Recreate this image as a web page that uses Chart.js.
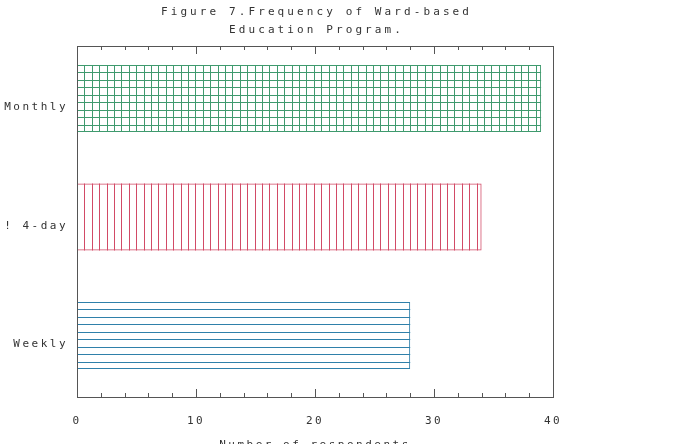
<!DOCTYPE html>
<html>
<head>
<meta charset="utf-8">
<script src="https://cdn.jsdelivr.net/npm/chart.js@4/dist/chart.umd.min.js"></script>
<style>
html,body{margin:0;padding:0;background:#fff;}
#wrap{width:681px;height:444px;}
</style>
</head>
<body>
<div id="wrap"><canvas id="c" width="681" height="444"></canvas></div>
<script>
const categories = ['Monthly', '! 4-day', 'Weekly'];
const respondents = [39, 34, 28];
const xTickValues = [0, 10, 20, 30, 40];
const titleLines = ['Figure 7.Frequency of Ward-based', 'Education Program.'];
const xTitle = 'Number of respondents';

const lineColors = ['#3f9a6e', '#d24a66', '#2f80aa'];
const patterns = ['grid', 'vertical', 'horizontal'];
const textColor = '#333';
const fontFamily = '"DejaVu Sans Mono", monospace';

const spacingPlugin = {
  id: 'spacing',
  beforeLayout(chart) { chart.ctx.letterSpacing = '2.5px'; },
  beforeDraw(chart) { chart.ctx.letterSpacing = '2.5px'; }
};

const titlePlugin = {
  id: 'plotTitle',
  afterDraw(chart) {
    const ctx = chart.ctx;
    const a = chart.chartArea;
    const cx = (a.left + a.right) / 2;
    ctx.save();
    ctx.letterSpacing = '3.1px';
    ctx.fillStyle = textColor;
    ctx.font = '11px ' + fontFamily;
    ctx.textAlign = 'center';
    ctx.textBaseline = 'middle';
    ctx.fillText(titleLines[0], cx + 1.5, 12.5);
    ctx.fillText(titleLines[1], cx + 1.5, 30);
    ctx.restore();
  }
};

const hatchPlugin = {
  id: 'hatch',
  afterDatasetsDraw(chart) {
    const ctx = chart.ctx;
    const meta = chart.getDatasetMeta(0);
    meta.data.forEach((bar, i) => {
      const left = Math.min(bar.base, bar.x);
      const right = Math.max(bar.base, bar.x);
      const top = bar.y - bar.height / 2;
      const bottom = bar.y + bar.height / 2;
      const kind = patterns[i];
      ctx.save();
      ctx.strokeStyle = lineColors[i];
      ctx.lineWidth = kind === 'horizontal' ? 1.2 : 1;
      ctx.beginPath();
      const step = 7.4;
      if (kind === 'grid' || kind === 'vertical') {
        for (let x = left + step; x < right - 1; x += step) {
          ctx.moveTo(Math.round(x) + 0.5, top);
          ctx.lineTo(Math.round(x) + 0.5, bottom);
        }
      }
      if (kind === 'grid' || kind === 'horizontal') {
        const n = 9;
        for (let k = 1; k < n; k++) {
          const y = top + (bottom - top) * k / n;
          ctx.moveTo(left, Math.round(y) + 0.5);
          ctx.lineTo(right, Math.round(y) + 0.5);
        }
      }
      ctx.stroke();
      ctx.restore();
    });
  }
};

const framePlugin = {
  id: 'frame',
  afterDraw(chart) {
    const ctx = chart.ctx;
    const a = chart.chartArea;
    const xs = chart.scales.x;
    ctx.save();
    ctx.strokeStyle = '#555';
    ctx.lineWidth = 1;
    ctx.strokeRect(Math.round(a.left) + 0.5, Math.round(a.top) + 0.5,
                   Math.round(a.right - a.left), Math.round(a.bottom - a.top));
    ctx.beginPath();
    for (let v = xs.min; v <= xs.max; v += 2) {
      const px = Math.round(xs.getPixelForValue(v)) + 0.5;
      const len = (v % 10 === 0) ? 8 : 4;
      ctx.moveTo(px, a.top); ctx.lineTo(px, a.top + len);
      ctx.moveTo(px, a.bottom); ctx.lineTo(px, a.bottom - len);
    }
    ctx.stroke();
    ctx.restore();
  }
};

const font = { family: fontFamily, size: 11 };

new Chart(document.getElementById('c'), {
  type: 'bar',
  data: {
    datasets: [{
      data: respondents.map((v, i) => ({ x: v, y: i })),
      backgroundColor: 'rgba(255,255,255,0)',
      borderColor: lineColors,
      borderWidth: 1,
      borderSkipped: false,
      categoryPercentage: 1,
      barPercentage: 0.565
    }]
  },
  options: {
    indexAxis: 'y',
    responsive: false,
    animation: false,
    layout: { padding: { left: 0, right: 128, top: 46, bottom: 0 } },
    plugins: {
      legend: { display: false },
      tooltip: { enabled: false },
      title: { display: false }
    },
    scales: {
      x: {
        type: 'linear',
        min: 0, max: 40,
        afterBuildTicks(scale) { scale.ticks = xTickValues.map(v => ({ value: v })); },
        afterFit(scale) { scale.height = 47; },
        grid: { display: false, drawTicks: false },
        border: { display: false },
        ticks: { color: textColor, font, padding: 18 },
        title: { display: true, text: xTitle, color: textColor, font, padding: { top: 0, bottom: -8 } }
      },
      y: {
        type: 'linear',
        reverse: true,
        offset: false,
        min: -0.443, max: 2.519,
        afterBuildTicks(scale) { scale.ticks = categories.map((c, i) => ({ value: i })); },
        afterFit(scale) { scale.width = 77; },
        grid: { display: false, drawTicks: false, offset: false },
        border: { display: false },
        ticks: { color: textColor, font, padding: 9, labelOffset: 9, callback: (v) => categories[v] }
      }
    }
  },
  plugins: [spacingPlugin, hatchPlugin, framePlugin, titlePlugin]
});
</script>
</body>
</html>
